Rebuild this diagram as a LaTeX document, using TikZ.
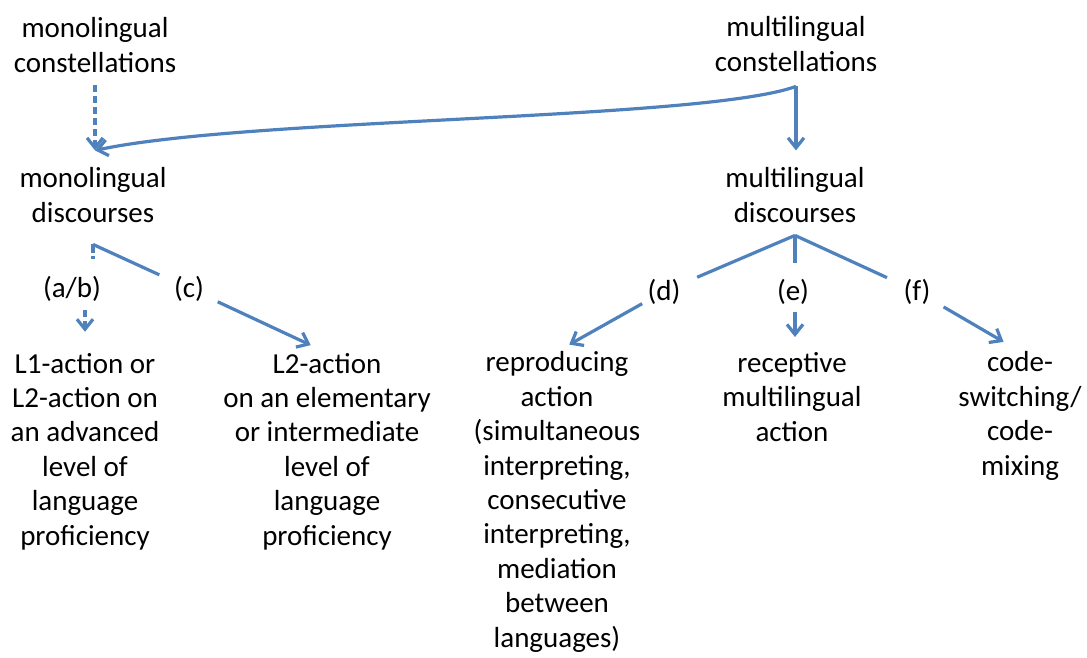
\documentclass[tikz,border=0pt]{standalone}
\usepackage{fontspec}
\setmainfont{Carlito}
\usetikzlibrary{arrows.meta,calc}
\definecolor{linkblue}{RGB}{79,129,189}

\begin{document}
\begin{tikzpicture}[x=1pt, y=-1pt,
    lbl/.style={align=center, anchor=base, inner sep=0pt, font=\fontsize{29}{34.4}\selectfont},
    link/.style={draw=linkblue, line width=3.2pt},
    tip/.style={link, -{Straight Barb[length=10pt, width=16pt]}},
    dashlink/.style={dash pattern=on 7pt off 4pt}]
    \useasboundingbox (0,0) rectangle (1087,657);

    % top row (base = last line)
    \node[lbl] (monoCon) at (95,72) {monolingual\\constellations};
    \node[lbl] (multiCon) at (796,71) {multilingual\\constellations};

    % discourses
    \node[lbl] (monoDis) at (93,222) {monolingual\\discourses};
    \node[lbl] (multiDis) at (795,222) {multilingual\\discourses};

    % branch labels
    \node[lbl] (abLbl) at (72,297) {(a/b)};
    \node[lbl] (cLbl) at (189,297) {(c)};
    \node[lbl] (dLbl) at (664,300) {(d)};
    \node[lbl] (eLbl) at (793,300) {(e)};
    \node[lbl] (fLbl) at (917,300) {(f)};

    % kinds of action
    \node[lbl] (firstAct) at (85,545) {L1-action or\\L2-action on\\an advanced\\level of\\language\\proficiency};
    \node[lbl] (secondAct) at (327,545) {L2-action\\on an elementary\\or intermediate\\level of\\language\\proficiency};
    \node[lbl] (reproAct) at (557,647) {reproducing\\action\\(simultaneous\\interpreting,\\consecutive\\interpreting,\\mediation\\between\\languages)};
    \node[lbl] (recepAct) at (792,441) {receptive\\multilingual\\action};
    \node[lbl] (codeAct) at (1020,475) {code-\\switching/\\code-\\mixing};

    % split points
    \coordinate (multiSplit) at ($(multiCon.south)+(0,15)$);
    \coordinate (monoIn) at ($(monoCon.south)+(0,78)$);
    \coordinate (monoFork) at ($(monoDis.south)+(0,22)$);
    \coordinate (multiFork) at ($(multiDis.south)+(0,13)$);

    % constellations -> discourses
    \draw[tip, dashlink, shorten <=13pt] (monoCon.south) -- (monoIn);
    \draw[tip] (multiSplit) -- (multiSplit |- monoIn);
    \draw[tip] (multiSplit) .. controls +(-95,34) and +(155,-33) .. (monoIn);

    % monolingual branches
    \draw[link, dash pattern=on 9pt off 3pt] (monoFork) -- (monoFork |- 0,259);
    \draw[link, shorten >=16pt] (monoFork) -- (cLbl);
    \draw[tip, dashlink, shorten <=9pt, shorten >=21pt] (abLbl.south -| firstAct.north) -- (firstAct.north);
    \draw[tip, shorten <=15pt, shorten >=18pt] (cLbl) -- (secondAct.north);

    % multilingual branches
    \draw[link, shorten >=18pt] (multiFork) -- (dLbl);
    \draw[link, shorten >=16pt] (multiFork) -- (multiFork |- eLbl.north);
    \draw[link, shorten >=18pt] (multiFork) -- (fLbl);
    \draw[tip, shorten <=6pt, shorten >=14pt] (dLbl) -- (reproAct.north);
    \draw[tip, shorten <=8pt, shorten >=15pt] (eLbl.south -| multiFork) -- (multiFork |- recepAct.north);
    \draw[tip, shorten <=15pt, shorten >=19pt] (fLbl) -- (codeAct.north);
\end{tikzpicture}
\end{document}
